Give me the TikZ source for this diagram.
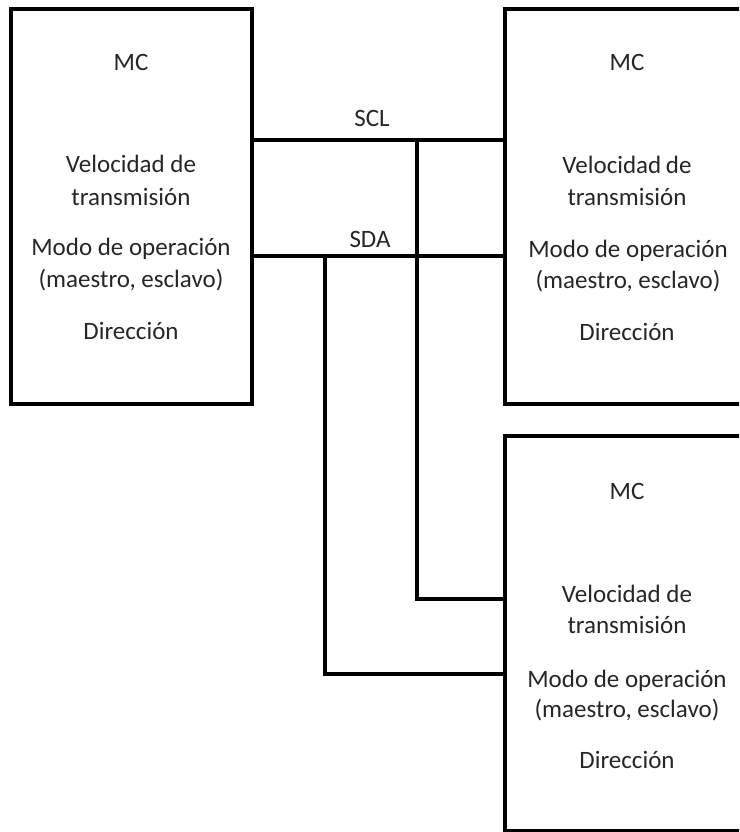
\documentclass[tikz,border=0pt]{standalone}
\usepackage{fontspec}
\setmainfont{Carlito}
\begin{document}
\begin{tikzpicture}[x=1pt,y=-1pt,
  mcbox/.style={draw=black,line width=3.2pt,rectangle,inner sep=0pt,outer sep=0pt},
  lbl/.style={anchor=base,inner sep=0pt,text=black!85,font=\fontsize{25}{30}\selectfont},
  bus/.style={draw=black,line width=3.2pt,line cap=rect}]
\useasboundingbox (0,0) rectangle (739,832);
\clip (0,0) rectangle (739,832);

% controller boxes
\node[mcbox,minimum width=241pt,minimum height=395pt] (L)  at (131.5,206.5) {};
\node[mcbox,minimum width=260pt,minimum height=395pt] (R1) at (635,206.5) {};
\node[mcbox,minimum width=260pt,minimum height=395pt] (R2) at (635,633.5) {};

% left controller texts
\node[lbl] (LMC) at (131,71)  {MC};
\node[lbl] (LV)  at (131,172) {Velocidad de};
\node[lbl] (LT)  at (131,205) {transmisión};
\node[lbl] (LM)  at (131,255) {Modo de operación};
\node[lbl] (LE)  at (131,287) {(maestro, esclavo)};
\node[lbl] (LD)  at (131,339) {Dirección};

% upper right controller texts
\node[lbl] (AMC) at (627,71)  {MC};
\node[lbl] (AV)  at (627,173) {Velocidad\kern-1pt\ de};
\node[lbl] (AT)  at (627,205) {transmisión};
\node[lbl] (AM)  at (628,257) {Modo de operación};
\node[lbl] (AE)  at (628,288) {(maestro, esclavo)};
\node[lbl] (AD)  at (627,340) {Dirección};

% lower right controller texts
\node[lbl] (BMC) at (627,499) {MC};
\node[lbl] (BV)  at (627,602) {Velocidad de};
\node[lbl] (BT)  at (627,633) {transmisión};
\node[lbl] (BM)  at (627,687) {Modo de operación};
\node[lbl] (BE)  at (627,717) {(maestro, esclavo)};
\node[lbl] (BD)  at (627,768) {Dirección};

% bus labels
\node[lbl] (scl) at (372,127) {SCL};
\node[lbl] (sda) at (370,247) {SDA};

% bus routing points
\coordinate (yscl) at (0,140);
\coordinate (ysda) at (0,256);
\coordinate (jscl) at (417,140);
\coordinate (jsda) at (325,256);
\coordinate (cscl) at (417,599);
\coordinate (csda) at (325,674);

% SCL and SDA between the upper controllers
\draw[bus] (L.east |- yscl) -- (R1.west |- yscl);
\draw[bus] (L.east |- ysda) -- (R1.west |- ysda);

% branches to the lower controller
\draw[bus] (jscl) -- (cscl) -- (R2.west |- cscl);
\draw[bus] (jsda) -- (csda) -- (R2.west |- csda);
\end{tikzpicture}
\end{document}
